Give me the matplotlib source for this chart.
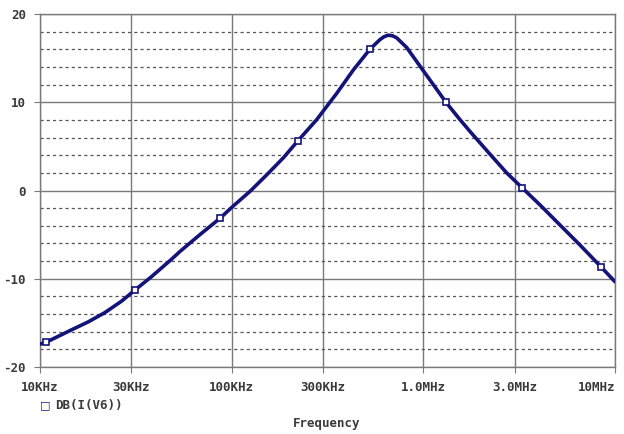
import numpy as np
import matplotlib.pyplot as plt
from matplotlib.ticker import MultipleLocator, NullLocator

# curve (frequency in Hz, level in dB)
freq = [10e3, 10.75e3, 14.57e3, 17.8e3, 21.75e3, 26.6e3, 31.2e3, 38.1e3,
        48.4e3, 53.8e3, 68.3e3, 86.9e3, 102e3, 124.6e3, 152e3, 186e3,
        222e3, 277e3, 353e3, 431e3, 526e3, 594e3, 623e3, 656e3, 691e3,
        726e3, 819e3, 960e3, 1.127e6, 1.312e6, 1.553e6, 1.75e6, 2.22e6,
        2.72e6, 3.28e6, 4.06e6, 5.16e6, 6.56e6, 8.44e6, 10e6]
db = [-17.4, -17.2, -15.8, -14.9, -13.85, -12.55, -11.3, -9.78,
      -7.82, -6.9, -5.0, -3.15, -1.75, -0.1, 1.75, 3.7,
      5.65, 8.0, 11.0, 13.65, 16.0, 17.1, 17.42, 17.6, 17.53,
      17.3, 16.2, 14.1, 12.0, 10.0, 8.03, 6.7, 4.15,
      2.0, 0.3, -1.63, -3.9, -6.17, -8.64, -10.34]
# data points that carry a marker
marker_idx = [1, 6, 11, 16, 20, 29, 34, 38]

xticks = [10e3, 30e3, 100e3, 300e3, 1e6, 3e6, 10e6]
xlabels = ['10KHz', '30KHz', '100KHz', '300KHz', '1.0MHz', '3.0MHz', '10MHz']
yticks = [-20, -10, 0, 10, 20]
ylabels = ['-20', '-10', '0', '10', '20']

navy = '#13137a'
grey = '#7a7a7a'
txt = '#3a3a3a'
font = dict(family='DejaVu Sans Mono', weight='bold', size=9, color=txt)

fig = plt.figure(figsize=(6.24, 4.34), dpi=100)
ax = fig.add_axes([40 / 624, 67 / 434, 575 / 624, 353 / 434])

ax.set_xscale('log')
ax.set_xlim(10e3, 10e6)
ax.set_ylim(-20, 20)

ax.set_xticks(xticks)
ax.set_xticklabels(xlabels, fontdict=font)
ax.get_xticklabels()[-1].set_horizontalalignment('right')
ax.xaxis.set_minor_locator(NullLocator())
ax.set_yticks(yticks)
ax.set_yticklabels(ylabels, fontdict=font)
ax.yaxis.set_minor_locator(MultipleLocator(2))

ax.grid(True, which='major', color=grey, linewidth=1.0, linestyle='-')
ax.grid(True, which='minor', axis='y', color='#555555', linewidth=0.9,
        linestyle=(0, (2.5, 2.5)))
ax.tick_params(which='major', direction='out', length=4, color=grey, pad=6)
ax.tick_params(which='minor', length=0)
for s in ax.spines.values():
    s.set_color(grey)
    s.set_linewidth(1.0)

ax.plot(freq, db, color=navy, linewidth=2.6, solid_capstyle='round',
        solid_joinstyle='round', zorder=3)
ax.plot([freq[i] for i in marker_idx], [db[i] for i in marker_idx],
        linestyle='none', marker='s', markersize=4.5, markerfacecolor='white',
        markeredgecolor=navy, markeredgewidth=1.2, zorder=4)

# legend entry and axis title below the plot
fig.text(45 / 624, 1 - 405 / 434, '\u25a1', ha='center', va='center',
         family='DejaVu Sans', size=8, color=navy)
fig.text(55 / 624, 1 - 405 / 434, 'DB(I(V6))', ha='left', va='center', **font)
fig.text(327 / 624, 1 - 424 / 434, 'Frequency', ha='center', va='center', **font)

fig.savefig('out.png', dpi=100, facecolor='white')
